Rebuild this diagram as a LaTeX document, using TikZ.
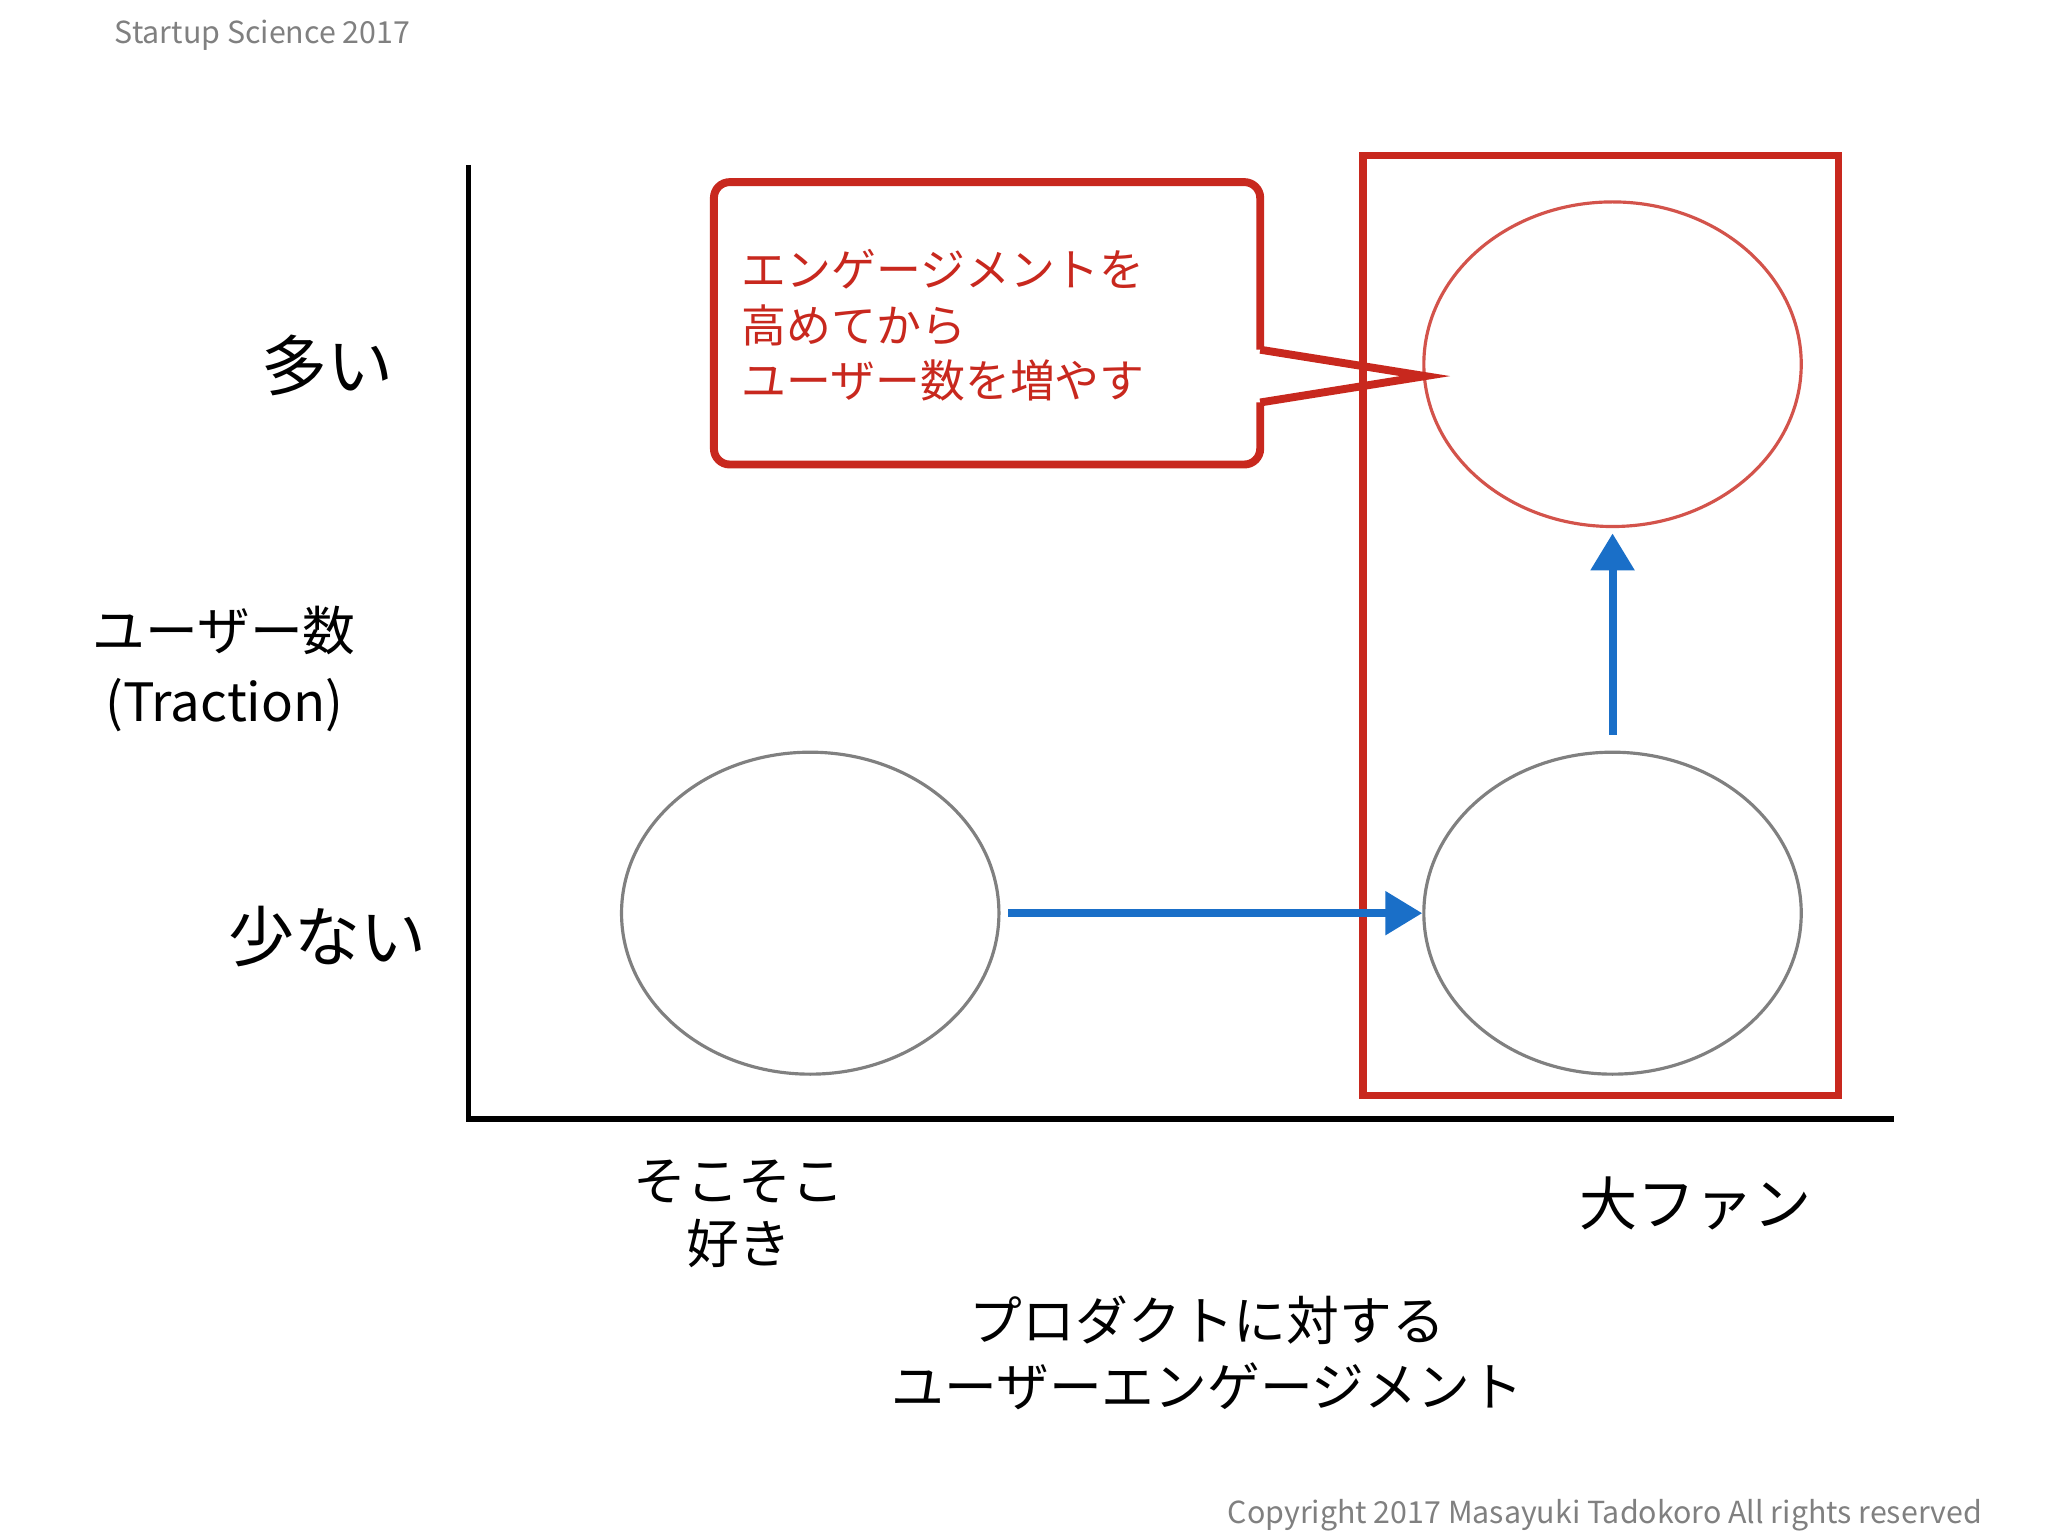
\documentclass[tikz,border=0pt]{standalone}
\usepackage{fontspec}
\setmainfont{Noto Sans CJK JP}
\usetikzlibrary{arrows.meta,shapes.geometric,calc}
\definecolor{rd}{HTML}{C8281E}
\definecolor{bl}{HTML}{1A6FC8}
\definecolor{gr}{HTML}{808080}
\begin{document}
\begin{tikzpicture}[x=0.5pt,y=-0.5pt,
  circ/.style={draw=gr,line width=1.2pt,ellipse,inner sep=0pt,minimum width=143pt,minimum height=122pt},
  barrow/.style={draw=bl,line width=3pt,-{Triangle[length=14pt,width=16pt]}},
  lab/.style={font=\fontsize{20}{24}\selectfont,align=center}]
\useasboundingbox (0,0) rectangle (1552,1164);
\fill[white] (0,0) rectangle (1552,1164);
\node[anchor=west,text=gr,font=\fontsize{11.5}{13}\selectfont] (title) at (80,27) {Startup Science 2017};
\node[anchor=east,text=gr,font=\fontsize{11.5}{13}\selectfont] (copy) at (1509,1148) {Copyright 2017 Masayuki Tadokoro All rights reserved};
% axes
\coordinate (o) at (355,848);
\coordinate (yt) at (355,125);
\coordinate (xr) at (1435,848);
\draw[line width=2pt] (yt) -- (o) -- (xr);
% red frame
\draw[rd,line width=2.8pt] (1033,118) rectangle (1393,830);
% ellipses
\node[circ,draw=rd!80,minimum height=123pt] (e1) at (1222,276) {};
\node[circ] (e2) at (1222,692) {};
\node[circ] (e3) at (614,692) {};
% arrows
\draw[barrow] ($(e3.east)+(6,0)$) -- (e2.west);
\draw[barrow] ($(e2.north)+(0,-12)$) -- ($(e1.south)+(0,4)$);
% callout
\coordinate (tip) at (1080,285);
\draw[rd,line width=3pt,rounded corners=6pt,line join=miter]
  (955,265) -- (955,138) -- (541,138) -- (541,352) -- (955,352) -- (955,305);
\draw[rd,line width=3pt,line join=miter] (955,265) -- (tip) -- (955,305);
\node[anchor=north west,text=rd,align=left,font=\fontsize{17}{21}\selectfont] (ct) at (555,182)
 {エンゲージメントを\\高めてから\\ユーザー数を増やす};
% labels
\node[lab,font=\fontsize{25}{30}\selectfont] (many) at (248,277) {多い};
\node[lab,font=\fontsize{25}{30}\selectfont] (few) at (248,710) {少ない};
\node[lab,font=\fontsize{20}{27}\selectfont] (yl) at (170,507) {ユーザー数\\(Traction)};
\node[lab] (sk) at (560,920) {そこそこ\\好き};
\node[lab,font=\fontsize{22}{26}\selectfont] (fan) at (1285,912) {大ファン};
\node[lab,font=\fontsize{20}{25}\selectfont] (xl) at (915,1025) {プロダクトに対する\\ユーザーエンゲージメント};
\end{tikzpicture}
\end{document}
